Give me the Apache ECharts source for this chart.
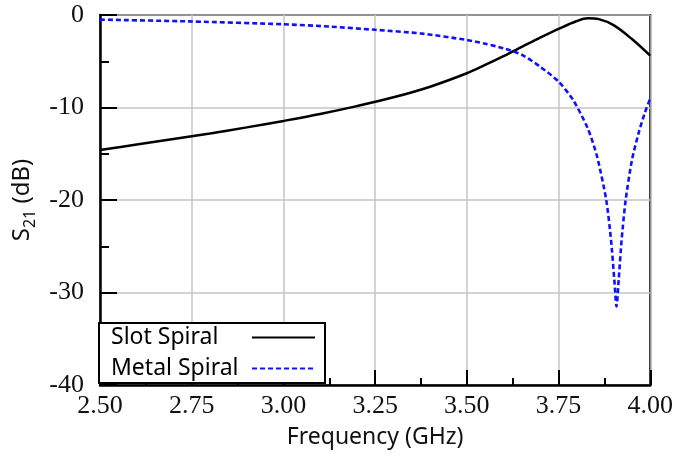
<!DOCTYPE html>
<html>
<head>
<meta charset="utf-8">
<script src="https://cdn.jsdelivr.net/npm/echarts@6/dist/echarts.min.js"></script>
<style>html,body{margin:0;padding:0;background:#fff;}#c{width:676px;height:462px;}</style>
</head>
<body>
<div id="c"></div>
<script>
// Slot Spiral (black solid)
var slotFreq = [2.50, 2.60, 2.70, 2.80, 2.90, 3.00, 3.10, 3.20, 3.30, 3.40, 3.50, 3.55, 3.60, 3.65, 3.70, 3.75, 3.80, 3.83, 3.86, 3.90, 3.95, 4.00];
var slotVal  = [-14.6, -14.0, -13.4, -12.8, -12.15, -11.45, -10.7, -9.85, -8.9, -7.75, -6.3, -5.4, -4.45, -3.45, -2.45, -1.5, -0.65, -0.35, -0.45, -1.1, -2.6, -4.4];
// Metal Spiral (blue dashed)
var metalFreq = [2.50, 2.75, 3.00, 3.125, 3.25, 3.375, 3.50, 3.55, 3.60, 3.65, 3.70, 3.75, 3.79, 3.83, 3.855, 3.88, 3.893, 3.902, 3.908, 3.914, 3.922, 3.933, 3.95, 3.968, 3.985, 4.00];
var metalVal  = [-0.5, -0.7, -1.0, -1.25, -1.6, -2.0, -2.7, -3.1, -3.6, -4.3, -5.6, -7.2, -9.2, -12.3, -15.3, -20.0, -24.3, -28.6, -31.5, -28.6, -24.3, -20.0, -15.7, -12.8, -10.6, -9.0];
var seriesNames = ['Slot Spiral', 'Metal Spiral'];
var xTickMin = 2.5, xTickMax = 4.0, xTickStep = 0.25;
var yTickMin = -40, yTickMax = 0, yTickStep = 10;

function pairs(xs, ys) { return xs.map(function (x, i) { return [x, ys[i]]; }); }

var chart = echarts.init(document.getElementById('c'), null, {renderer: 'canvas'});
var serifFont = '"Liberation Serif", "Times New Roman", serif';
var sansFont = '"Noto Sans", "Open Sans", sans-serif';
chart.setOption({
  animation: false,
  backgroundColor: '#fff',
  grid: {left: 100, top: 15, right: 19, bottom: 77, show: true, borderColor: '#000', borderWidth: 2, backgroundColor: 'transparent'},
  legend: {
    left: 99, top: 323,
    orient: 'vertical',
    align: 'right',
    padding: [3, 9, 3, 12],
    itemGap: 8,
    itemWidth: 63,
    itemHeight: 14,
    backgroundColor: '#fff',
    borderColor: '#000',
    borderWidth: 2,
    borderRadius: 0,
    itemStyle: {opacity: 0},
    formatter: '{a|{name}}',
    textStyle: {
      fontFamily: sansFont, fontSize: 23, color: '#000',
      rich: {a: {width: 136, align: 'left', fontFamily: sansFont, fontSize: 23, color: '#000'}}
    },
    data: seriesNames
  },
  xAxis: {
    type: 'value', min: xTickMin, max: xTickMax, interval: xTickStep,
    name: 'Frequency (GHz)', nameLocation: 'middle', nameGap: 41,
    nameTextStyle: {fontFamily: sansFont, fontSize: 23, color: '#111'},
    axisLine: {show: true, onZero: false, lineStyle: {color: '#000', width: 2.5}},
    axisTick: {show: true, inside: true, length: 15, lineStyle: {color: '#000', width: 2}},
    minorTick: {show: true, splitNumber: 2, length: 7, lineStyle: {color: '#000', width: 2}},
    axisLabel: {fontFamily: serifFont, fontSize: 26, color: '#111', margin: 8, formatter: function (v) { return v.toFixed(2); }},
    splitLine: {show: true, lineStyle: {color: '#c4c4c4', width: 1.5}}
  },
  yAxis: {
    type: 'value', min: yTickMin, max: yTickMax, interval: yTickStep,
    name: '{s|S}{sub|21}{s| (dB)}', nameLocation: 'middle', nameGap: 64,
    nameTextStyle: {
      fontFamily: sansFont, fontSize: 24, color: '#111',
      rich: {
        s: {fontFamily: sansFont, fontSize: 24, color: '#111', lineHeight: 28, verticalAlign: 'bottom'},
        sub: {fontFamily: sansFont, fontSize: 16, color: '#111', lineHeight: 14, verticalAlign: 'bottom', padding: [0, 0, -4, 0]}
      }
    },
    axisLine: {show: true, onZero: false, lineStyle: {color: '#000', width: 2.5}},
    axisTick: {show: true, inside: true, length: 17, lineStyle: {color: '#000', width: 2}},
    minorTick: {show: true, splitNumber: 2, length: 9, lineStyle: {color: '#000', width: 2}},
    axisLabel: {fontFamily: serifFont, fontSize: 26, color: '#111', margin: 16},
    splitLine: {show: true, lineStyle: {color: '#c4c4c4', width: 1.5}}
  },
  series: [
    {
      name: seriesNames[0], type: 'line', data: pairs(slotFreq, slotVal),
      symbol: 'none', smooth: 0.35,
      lineStyle: {color: '#000', width: 2.5},
      itemStyle: {color: '#000'}, z: 3
    },
    {
      name: seriesNames[1], type: 'line', data: pairs(metalFreq, metalVal),
      symbol: 'none', smooth: 0.25,
      lineStyle: {color: '#1010ff', width: 2.6, type: [5, 3]},
      itemStyle: {color: '#1010ff'}, z: 3
    }
  ]
});
</script>
</body>
</html>
